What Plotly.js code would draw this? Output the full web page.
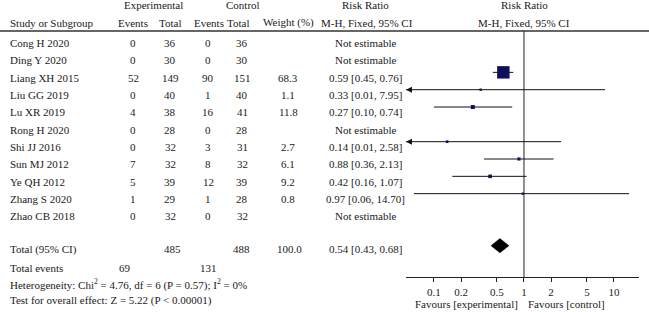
<!DOCTYPE html>
<html><head><meta charset="utf-8">
<script src="https://cdn.plot.ly/plotly-3.0.1.min.js"></script>
<style>html,body{margin:0;padding:0;background:#fff}#chart{width:649px;height:312px}</style>
</head><body><div id="chart"></div>
<script>
// ---- data ----
const studies = ['Cong H 2020','Ding Y 2020','Liang XH 2015','Liu GG 2019','Lu XR 2019','Rong H 2020','Shi JJ 2016','Sun MJ 2012','Ye QH 2012','Zhang S 2020','Zhao CB 2018'];
const expEvents = [0,0,52,0,4,0,0,7,5,1,0];
const expTotal = [36,30,149,40,38,28,32,32,39,29,32];
const ctrlEvents = [0,0,90,1,16,0,3,8,12,1,0];
const ctrlTotal = [36,30,151,40,41,28,31,32,39,28,32];
const weights = [null,null,68.3,1.1,11.8,null,2.7,6.1,9.2,0.8,null];
const riskRatio = [null,null,0.59,0.33,0.27,null,0.14,0.88,0.42,0.97,null];
const ciLow = [null,null,0.45,0.01,0.10,null,0.01,0.36,0.16,0.06,null];
const ciHigh = [null,null,0.76,7.95,0.74,null,2.58,2.13,1.07,14.70,null];
const totalRR = 0.54, totalLow = 0.43, totalHigh = 0.68;
const totalExp = 485, totalCtrl = 488, totalWeight = 100.0;
const totalEventsExp = 69, totalEventsCtrl = 131;
const tickValues = [0.1,0.2,0.5,1,2,5,10];
const tickLabels = ['0.1','0.2','0.5','1','2','5','10'];

// ---- layout geometry ----
const W = 649, H = 312;
const ROW0 = 37.7, ROWH = 17.33, TEXT_OFF = 5.3;
const XR = [-1.311, 1.278];
const AXIS_Y = 277.3;
const FONT = {family:'"Liberation Serif", "Times New Roman", serif', size:11, color:'#1a1a1a'};
const NAVY = '#10105a';
const rowOf = px => (px - ROW0) / ROWH;
const totalRow = studies.length + 1;

function ann(text, xpx, ypx, anchor) {
  return {xref:'paper', yref:'paper', x:xpx/W, y:1-ypx/H, xanchor:anchor||'center', yanchor:'middle',
          text:text, showarrow:false, font:FONT};
}
const annotations = [];
// headers
annotations.push(ann('Experimental',153,5));
annotations.push(ann('Control',243,5));
annotations.push(ann('Risk Ratio',366,5));
annotations.push(ann('Risk Ratio',524.5,5));
annotations.push(ann('Study or Subgroup',8,22.7,'left'));
annotations.push(ann('Events',133,22.7));
annotations.push(ann('Total',170,22.7));
annotations.push(ann('Events',208.5,22.7));
annotations.push(ann('Total',238,22.7));
annotations.push(ann('Weight (%)',288,22.7));
annotations.push(ann('M-H, Fixed, 95% CI',367,22.7));
annotations.push(ann('M-H, Fixed, 95% CI',524,22.7));
// study rows
studies.forEach((s,i) => {
  const y = ROW0 + ROWH*i + TEXT_OFF;
  annotations.push(ann(s,8,y,'left'));
  annotations.push(ann(String(expEvents[i]),133,y));
  annotations.push(ann(String(expTotal[i]),170,y));
  annotations.push(ann(String(ctrlEvents[i]),208,y));
  annotations.push(ann(String(ctrlTotal[i]),242,y));
  if (weights[i] !== null) annotations.push(ann(weights[i].toFixed(1),288,y));
  const rrText = riskRatio[i] === null ? 'Not estimable'
    : riskRatio[i].toFixed(2)+' ['+ciLow[i].toFixed(2)+', '+ciHigh[i].toFixed(2)+']';
  annotations.push(ann(rrText,366,y));
});
// totals
annotations.push(ann('Total (95% CI)',8,249,'left'));
annotations.push(ann(String(totalExp),172,249));
annotations.push(ann(String(totalCtrl),241.5,249));
annotations.push(ann(totalWeight.toFixed(1),289,249));
annotations.push(ann(totalRR.toFixed(2)+' ['+totalLow.toFixed(2)+', '+totalHigh.toFixed(2)+']',366,249));
annotations.push(ann('Total events',8,268,'left'));
annotations.push(ann(String(totalEventsExp),125,268));
annotations.push(ann(String(totalEventsCtrl),209,268));
annotations.push(ann('Heterogeneity: Chi<sup>2</sup> = 4.76, df = 6 (P = 0.57); I<sup>2</sup> = 0%',8,284,'left'));
annotations.push(ann('Test for overall effect: Z = 5.22 (P &lt; 0.00001)',8,300,'left'));
annotations.push(ann('Favours [experimental]',520,304,'right'));
annotations.push(ann('Favours [control]',525.5,304,'left'));

// ---- traces ----
const est = studies.map((s,i)=>i).filter(i => riskRatio[i] !== null);
const ciX = [], ciY = [];
est.forEach(i => { ciX.push(ciLow[i], ciHigh[i], null); ciY.push(i, i, null); });
const xMin = Math.pow(10, XR[0]);
const arrowIdx = est.filter(i => ciLow[i] < xMin);

const traces = [
  {type:'scatter', mode:'lines', x:[1,1], y:[rowOf(31), rowOf(AXIS_Y)],
   line:{color:'#222', width:1}, hoverinfo:'skip'},
  {type:'scatter', mode:'lines', x:ciX, y:ciY, line:{color:'#111', width:1}, hoverinfo:'skip'},
  {type:'scatter', mode:'markers', x:arrowIdx.map(()=>xMin), y:arrowIdx,
   marker:{symbol:'arrow-left', size:6, color:'#111', opacity:1}, cliponaxis:false, hoverinfo:'skip'},
  {type:'scatter', mode:'markers', x:est.map(i=>riskRatio[i]), y:est,
   marker:{symbol:'square', color:NAVY, opacity:1,
           size:est.map(i=>2.2+0.15*weights[i]),
           line:{width:0}},
   cliponaxis:false, hoverinfo:'skip'},
  {type:'scatter', mode:'lines', x:[totalLow,totalRR,totalHigh,totalRR,totalLow],
   y:[totalRow,totalRow-0.415,totalRow,totalRow+0.415,totalRow],
   fill:'toself', fillcolor:'#000', line:{color:'#000', width:0.5}, hoverinfo:'skip'}
];

const layout = {
  width:W, height:H, margin:{l:0,r:0,t:0,b:0}, paper_bgcolor:'#fff', plot_bgcolor:'rgba(0,0,0,0)',
  showlegend:false, font:FONT,
  xaxis:{type:'log', domain:[406/W, 639/W], range:XR, anchor:'free', position:1-AXIS_Y/H,
         showline:true, linecolor:'#222', linewidth:1, ticks:'outside', ticklen:4, tickwidth:1, tickcolor:'#222',
         tickmode:'array', tickvals:tickValues, ticktext:tickLabels, tickfont:FONT,
         showgrid:false, zeroline:false, fixedrange:true},
  yaxis:{domain:[0,1], range:[(H-ROW0)/ROWH, -ROW0/ROWH], visible:false, showgrid:false, zeroline:false, fixedrange:true},
  shapes:[{type:'line', xref:'paper', yref:'paper', x0:0, x1:1, y0:1-31/H, y1:1-31/H, line:{color:'#333', width:1.3}}],
  annotations:annotations
};
Plotly.newPlot('chart', traces, layout, {displayModeBar:false, staticPlot:true});
</script></body></html>
